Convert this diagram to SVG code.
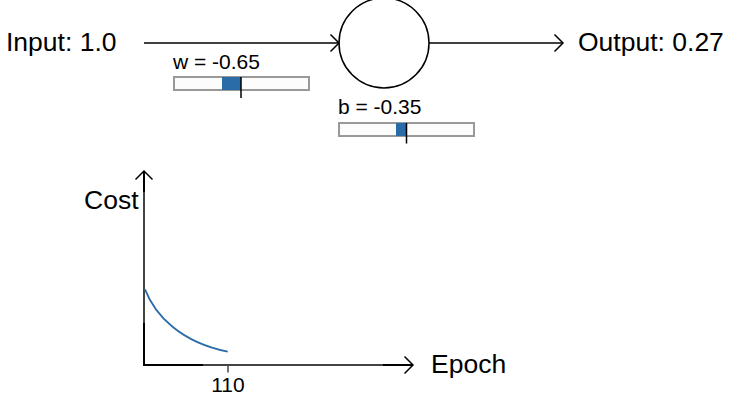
<svg xmlns="http://www.w3.org/2000/svg" width="755" height="409" viewBox="0 0 755 409">
<style>
.big{font-family:"Liberation Sans",Arial,sans-serif;font-size:26.5px;fill:#000}
.small{font-family:"Liberation Sans",Arial,sans-serif;font-size:21px;fill:#000}
.ln{stroke:#000;stroke-width:1.5;fill:none}
.head{stroke:#000;stroke-width:1.5;fill:none;stroke-linejoin:miter}
.track{fill:#fcfcfc;stroke:#999;stroke-width:2}
.knob{fill:#2a6ca8}
.ax{stroke:#000;stroke-width:2;fill:none}
.axg{stroke:#444;stroke-width:2;fill:none}
</style>
<rect width="755" height="409" fill="#fff"/>
<g id="input"><text class="big" x="6" y="51">Input: 1.0</text></g>
<g id="neuron"><circle cx="384" cy="43" r="45" fill="#fff" stroke="#000" stroke-width="1.5"/></g>
<g id="output"><text class="big" x="578" y="51">Output: 0.27</text></g>
<g id="connectors">
<line class="ln" x1="144" y1="43" x2="339" y2="43"/>
<path class="head" d="M330.5,34.5 L339,43 L330.5,51.5"/>
<line class="ln" x1="429" y1="43" x2="563" y2="43"/>
<path class="head" d="M554.5,34.5 L563,43 L554.5,51.5"/>
</g>
<g id="w-slider">
<text class="small" x="173" y="68.5">w = -0.65</text>
<rect class="track" x="174" y="77" width="135" height="13"/>
<rect class="knob" x="222" y="77" width="19" height="13"/>
<line stroke="#000" stroke-width="1.5" x1="241" y1="77" x2="241" y2="98"/>
</g>
<g id="b-slider">
<text class="small" x="338" y="113.5">b = -0.35</text>
<rect class="track" x="339" y="123" width="135" height="13"/>
<rect class="knob" x="396" y="123" width="10.5" height="13"/>
<line stroke="#000" stroke-width="1.5" x1="406.5" y1="123" x2="406.5" y2="143.5"/>
</g>
<g id="chart">
<line class="ax" x1="144" y1="366" x2="144" y2="171" stroke-width="1.5"/>
<path class="head" d="M135.5,179.5 L144,171 L152.5,179.5"/>
<line class="axg" x1="144" y1="192" x2="144" y2="323"/>
<line class="ax" x1="144" y1="323" x2="144" y2="366"/>
<line class="ax" x1="143" y1="365" x2="413" y2="365"/>
<line class="axg" x1="203" y1="365" x2="383" y2="365"/>
<path class="head" d="M404.5,356.5 L413,365 L404.5,373.5"/>
<line stroke="#444" stroke-width="1.5" x1="228" y1="365" x2="228" y2="372.5"/>
<text class="small" x="228" y="391.5" text-anchor="middle">110</text>
<path d="M145,289.3 C155,315 180,342 227.7,351.7" fill="none" stroke="#2a6ca8" stroke-width="1.8"/>
<text class="big" x="84" y="208.5">Cost</text>
<text class="big" x="431" y="373">Epoch</text>
</g>
</svg>
